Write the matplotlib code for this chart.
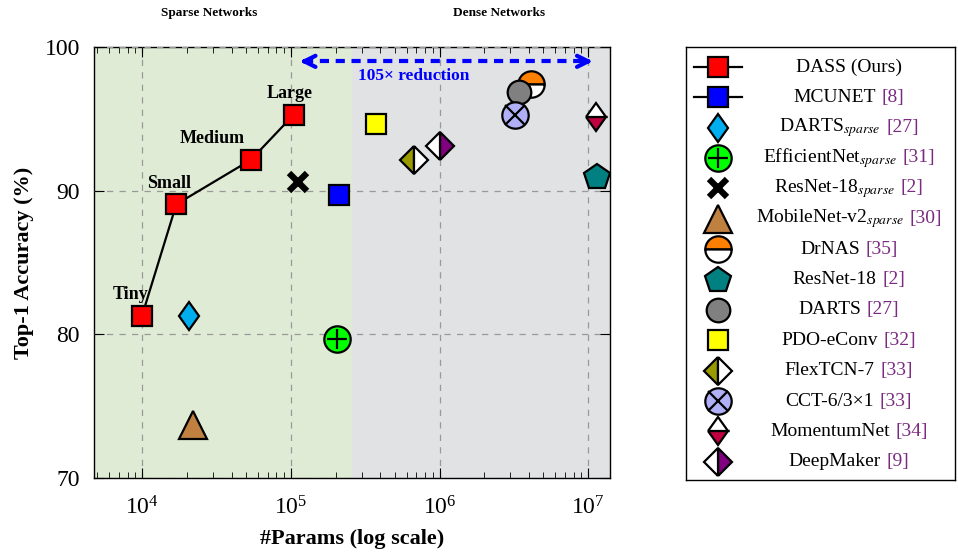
import numpy as np
import matplotlib
matplotlib.use("Agg")
import matplotlib.pyplot as plt
from matplotlib.markers import MarkerStyle
from matplotlib.transforms import Affine2D
from matplotlib.offsetbox import TextArea, HPacker, AnnotationBbox

plt.rcParams['font.family'] = ['Liberation Serif', 'DejaVu Serif']
plt.rcParams['mathtext.fontset'] = 'stix'

# DASS sizes
dass_names = ["Tiny", "Small", "Medium", "Large"]
dass_params = [1.0e4, 1.7e4, 5.4e4, 1.05e5]
dass_acc = [81.3, 89.05, 92.15, 95.3]

# other models: name, citation, params, accuracy
names = ["MCUNET", r"DARTS$_{sparse}$", r"EfficientNet$_{sparse}$", r"ResNet-18$_{sparse}$",
         r"MobileNet-v2$_{sparse}$", "DrNAS", "ResNet-18", "DARTS", "PDO-eConv",
         "FlexTCN-7", "CCT-6/3\u00d71", "MomentumNet", "DeepMaker"]
cites = ["[8]", "[27]", "[31]", "[2]", "[30]", "[35]", "[2]", "[27]", "[32]",
         "[33]", "[33]", "[34]", "[9]"]
params = [2.1e5, 2.07e4, 2.05e5, 1.12e5, 2.2e4, 4.1e6, 1.15e7, 3.4e6, 3.75e5,
          6.75e5, 3.2e6, 1.13e7, 1.0e6]
acc = [89.7, 81.3, 79.7, 90.6, 73.7, 97.4, 90.95, 96.9, 94.65, 92.15, 95.25, 95.15, 93.1]

narrow = Affine2D().scale(0.76, 1.0)
styles = [
    dict(marker='s', ms=15, mfc='#0000ff'),
    dict(marker=MarkerStyle('D', transform=narrow), ms=14, mfc='#00aeef'),
    dict(marker='o', ms=19, mfc='#00ff00'),
    dict(marker='x', ms=13, mec='black', mew=4.5),
    dict(marker='^', ms=20, mfc='#c08040'),
    dict(marker='o', ms=19, mfc='#ff8000', fillstyle='top', mfcalt='white'),
    dict(marker='p', ms=19, mfc='#008080'),
    dict(marker='o', ms=17, mfc='#808080'),
    dict(marker='s', ms=15, mfc='#ffff00'),
    dict(marker='D', ms=14, mfc='#999900', fillstyle='left', mfcalt='white'),
    dict(marker='o', ms=19, mfc='#b0b0f8'),
    dict(marker=MarkerStyle('D', fillstyle='bottom', transform=narrow), ms=14,
         mfc='#c00040', mfcalt='white'),
    dict(marker='D', ms=14, mfc='#800080', fillstyle='right', mfcalt='white'),
]
overlay = {2: '+', 10: 'x'}

fig = plt.figure(figsize=(9.58, 5.54), dpi=100)
ax = fig.add_axes([0.0981, 0.1372, 0.5386, 0.778])

xmin, xmax = 4750, 1.4e7
split = 2.58e5
ax.axvspan(xmin, split, color='#dfebd5', zorder=0)
ax.axvspan(split, xmax, color='#e0e2e4', zorder=0)


def draw(a, x, y, st, ov=None, z=4):
    kw = dict(st)
    mfcalt = kw.pop('mfcalt', None)
    kw.setdefault('mec', 'black')
    kw.setdefault('mew', 1.6)
    line, = a.plot([x], [y], linestyle='none', zorder=z, **kw)
    if mfcalt:
        line.set_markerfacecoloralt(mfcalt)
    if ov:
        a.plot([x], [y], marker=ov, ms=st['ms'] * 0.75, mec='black', mew=1.6,
               linestyle='none', zorder=z + 0.1)


ax.plot(dass_params, dass_acc, color='black', lw=1.6, marker='s', ms=15,
        mfc='#ff0000', mec='black', mew=1.6, zorder=5)
label_pos = [(-8, 12), (-5, 12), (-28, 12), (-3, 12)]
for n, x, y, off in zip(dass_names, dass_params, dass_acc, label_pos):
    ax.annotate(n, (x, y), xytext=off, textcoords='offset points', ha='center',
                fontsize=13, fontweight='bold', zorder=6)

# draw in an order that keeps overlapping markers like the reference
order = [0, 1, 2, 3, 4, 6, 8, 9, 12, 11, 5, 7, 10]
for i in order:
    draw(ax, params[i], acc[i], styles[i], overlay.get(i))

# reduction arrow
ya = 99.0
x1, x2 = 1.1e5, 1.12e7
ax.plot([x1 * 1.12, x2 / 1.12], [ya, ya], color='#0000ff', lw=3, ls=(0, (2.2, 1.6)), zorder=3)
ax.annotate('', xy=(x1, ya), xytext=(x1 * 1.25, ya),
            arrowprops=dict(arrowstyle='->', color='#0000ff', lw=3, mutation_scale=20))
ax.annotate('', xy=(x2, ya), xytext=(x2 / 1.25, ya),
            arrowprops=dict(arrowstyle='->', color='#0000ff', lw=3, mutation_scale=20))
ax.text(np.sqrt(x1 * x2) * 0.60, 97.95, '105\u00d7 reduction', color='#0000ff',
        fontsize=12.5, fontweight='bold', ha='center', va='center')

ax.set_xscale('log')
ax.set_xlim(xmin, xmax)
ax.set_ylim(70, 100)
ax.set_yticks([70, 80, 90, 100])
ax.grid(True, which='major', ls=(0, (5, 5)), color='#999999', lw=0.9)
ax.set_axisbelow(False)
ax.tick_params(which='both', direction='in', top=True, right=True, labelsize=17)
ax.tick_params(axis='x', which='major', length=7, pad=13)
ax.tick_params(axis='y', which='major', length=7, pad=10)
ax.tick_params(which='minor', length=4)
for s in ax.spines.values():
    s.set_linewidth(1.0)
ax.set_xlabel('#Params (log scale)', fontsize=16, fontweight='bold', labelpad=7)
ax.set_ylabel('Top-1 Accuracy (%)', fontsize=16, fontweight='bold', labelpad=8)

fig.text(209 / 958, 1 - 13 / 554, 'Sparse Networks', ha='center', va='center',
         fontsize=9.5, fontweight='bold')
fig.text(499 / 958, 1 - 13 / 554, 'Dense Networks', ha='center', va='center',
         fontsize=9.5, fontweight='bold')

# legend panel
lg = fig.add_axes([0.716, 0.1336, 0.281, 0.7816])
lg.set_xlim(0, 1)
lg.set_ylim(13.6, -0.66)
lg.set_xticks([])
lg.set_yticks([])
for s in lg.spines.values():
    s.set_linewidth(1.0)

mx = 0.12
lg.plot([0.03, 0.21], [0, 0], color='black', lw=1.6, zorder=3)
lg.plot([0.03, 0.21], [1, 1], color='black', lw=1.6, zorder=3)
draw(lg, mx, 0, dict(marker='s', ms=15, mfc='#ff0000'))
ab = AnnotationBbox(TextArea('DASS (Ours)', textprops=dict(fontsize=14)), (0.605, 0),
                    frameon=False, box_alignment=(0.5, 0.5))
lg.add_artist(ab)
for i in range(len(names)):
    draw(lg, mx, i + 1, styles[i], overlay.get(i))
    box = HPacker(children=[TextArea(names[i], textprops=dict(fontsize=14)),
                            TextArea(cites[i], textprops=dict(fontsize=14, color='#7a2a80'))],
                  align='baseline', pad=0, sep=4)
    ab = AnnotationBbox(box, (0.605, i + 1), frameon=False, box_alignment=(0.5, 0.5))
    lg.add_artist(ab)

fig.savefig('out.png', dpi=100)
